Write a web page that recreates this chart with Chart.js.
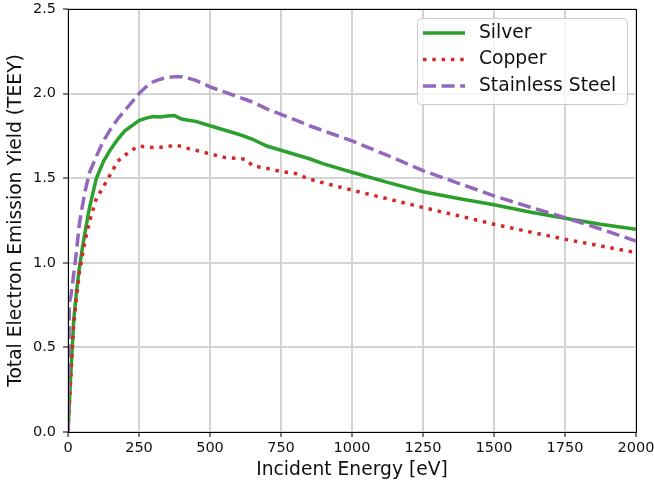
<!DOCTYPE html>
<html>
<head>
<meta charset="utf-8">
<script src="https://cdn.jsdelivr.net/npm/chart.js@4"></script>
<style>
  body { margin: 0; background: #fff; }
  #wrap { width: 654px; height: 487px; }
</style>
</head>
<body>
<div id="wrap"><canvas id="chart" width="654" height="487"></canvas></div>
<script>
// Data
const energy = [0, 5, 10, 20, 30, 40, 50, 60, 75, 100, 125, 150, 175, 200, 225, 250, 275, 300, 325, 350, 375, 400, 425, 450, 500, 550, 600, 625, 650, 700, 750, 800, 850, 900, 1000, 1125, 1250, 1375, 1500, 1625, 1750, 1875, 2000];
const silver = [0, 0.18, 0.35, 0.66, 0.83, 0.97, 1.08, 1.18, 1.32, 1.5, 1.6, 1.67, 1.73, 1.78, 1.81, 1.84, 1.855, 1.865, 1.862, 1.867, 1.87, 1.85, 1.843, 1.836, 1.81, 1.785, 1.76, 1.745, 1.73, 1.69, 1.665, 1.64, 1.615, 1.585, 1.535, 1.475, 1.42, 1.38, 1.343, 1.30, 1.263, 1.228, 1.198];
const copper = [0, 0.17, 0.33, 0.63, 0.8, 0.94, 1.04, 1.13, 1.24, 1.38, 1.45, 1.525, 1.60, 1.635, 1.667, 1.69, 1.685, 1.682, 1.683, 1.686, 1.696, 1.688, 1.675, 1.665, 1.644, 1.623, 1.616, 1.612, 1.574, 1.558, 1.54, 1.528, 1.495, 1.472, 1.43, 1.378, 1.327, 1.278, 1.228, 1.183, 1.139, 1.10, 1.06];
const stainless = [0, 0.77, 0.8, 0.93, 1.07, 1.23, 1.33, 1.42, 1.53, 1.63, 1.72, 1.79, 1.85, 1.90, 1.95, 2.0, 2.04, 2.07, 2.085, 2.095, 2.1, 2.1, 2.09, 2.078, 2.04, 2.01, 1.98, 1.965, 1.95, 1.91, 1.877, 1.845, 1.81, 1.78, 1.72, 1.635, 1.545, 1.47, 1.396, 1.33, 1.267, 1.20, 1.129];
const seriesLabels = ["Silver", "Copper", "Stainless Steel"];
const xTicks = [0, 250, 500, 750, 1000, 1250, 1500, 1750, 2000];
const yTicks = [0, 0.5, 1.0, 1.5, 2.0, 2.5];

Chart.defaults.font.family = "'DejaVu Sans'";
Chart.defaults.color = "#111";

const toPoints = (ys) => ys.map((y, i) => ({ x: energy[i], y }));
const crisp = (p) => Math.round(p - 0.5) + 0.5;

// matplotlib style axes box, drawn over the lines
const frame = {
  id: "frame",
  afterDatasetsDraw(chart) {
    const { ctx, chartArea } = chart;
    const l = crisp(chartArea.left), r = crisp(chartArea.right);
    const t = crisp(chartArea.top), b = crisp(chartArea.bottom);
    ctx.save();
    ctx.strokeStyle = "#000";
    ctx.lineWidth = 1;
    ctx.strokeRect(l, t, r - l, b - t);
    ctx.restore();
  },
};

// legend in the top right corner of the axes
const legendBox = {
  id: "legendBox",
  afterDraw(chart) {
    const { ctx, chartArea } = chart;
    const sets = chart.data.datasets;
    ctx.save();
    ctx.font = "18.7px 'DejaVu Sans'";
    const textW = Math.max(...sets.map((d) => ctx.measureText(d.label).width));
    const w = Math.round(62 + textW + 11);
    const h = 86;
    const x = Math.round(chartArea.right - 9 - w);
    const y = Math.round(chartArea.top + 9);
    ctx.beginPath();
    ctx.roundRect(x + 0.5, y + 0.5, w, h, 4);
    ctx.fillStyle = "rgba(255,255,255,0.8)";
    ctx.fill();
    ctx.strokeStyle = "#cccccc";
    ctx.lineWidth = 1;
    ctx.stroke();
    sets.forEach((d, i) => {
      const ry = y + 15 + i * 26.5;
      ctx.beginPath();
      ctx.setLineDash(d.borderDash || []);
      ctx.lineCap = "butt";
      ctx.strokeStyle = d.borderColor;
      ctx.lineWidth = d.borderWidth;
      ctx.moveTo(x + 6, ry);
      ctx.lineTo(x + 48, ry);
      ctx.stroke();
      ctx.setLineDash([]);
      ctx.fillStyle = "#111";
      ctx.textBaseline = "middle";
      ctx.textAlign = "left";
      ctx.fillText(d.label, x + 62, ry);
    });
    ctx.restore();
  },
};

const line = (label, ys, color, dash, order) => ({
  label,
  data: toPoints(ys),
  borderColor: color,
  backgroundColor: color,
  borderWidth: 3.5,
  borderDash: dash,
  borderCapStyle: "butt",
  pointRadius: 0,
  tension: 0,
  fill: false,
  order,
});

const data = {
  datasets: [
    line(seriesLabels[0], silver, "#2ca02c", [], 3),
    line(seriesLabels[1], copper, "#d62728", [3.5, 5.8], 2),
    line(seriesLabels[2], stainless, "#9467bd", [13, 5.6], 1),
  ],
};

const gridStyle = { color: "#d3d3d3", lineWidth: 2, tickColor: "#000", tickWidth: 1, tickLength: 5 };

const options = {
  responsive: false,
  animation: false,
  layout: { padding: { left: 0, right: 18, top: 9, bottom: 0 } },
  plugins: { legend: { display: false }, tooltip: { enabled: false } },
  scales: {
    x: {
      type: "linear",
      min: 0,
      max: 2000,
      afterBuildTicks: (s) => { s.ticks = xTicks.map((v) => ({ value: v })); },
      afterFit: (s) => { s.height = 55; s.paddingLeft = 0; s.paddingRight = 0; },
      ticks: { font: { size: 14.5 }, padding: 3, maxRotation: 0, autoSkip: false, callback: (v) => String(v) },
      grid: gridStyle,
      border: { display: false },
      title: { display: true, text: "Incident Energy [eV]", font: { size: 18.7 }, padding: { top: 0, bottom: 6 } },
    },
    y: {
      min: 0,
      max: 2.5,
      afterBuildTicks: (s) => { s.ticks = yTicks.map((v) => ({ value: v })); },
      afterFit: (s) => { s.width = 68; s.paddingTop = 0; s.paddingBottom = 0; },
      ticks: { font: { size: 14.5 }, padding: 7, autoSkip: false, callback: (v) => v.toFixed(1) },
      grid: gridStyle,
      border: { display: false },
      title: { display: true, text: "Total Electron Emission Yield (TEEY)", font: { size: 18.7 }, padding: { top: 5, bottom: 0 } },
    },
  },
};

new Chart(document.getElementById("chart").getContext("2d"), {
  type: "line",
  data,
  options,
  plugins: [frame, legendBox],
});
</script>
</body>
</html>
